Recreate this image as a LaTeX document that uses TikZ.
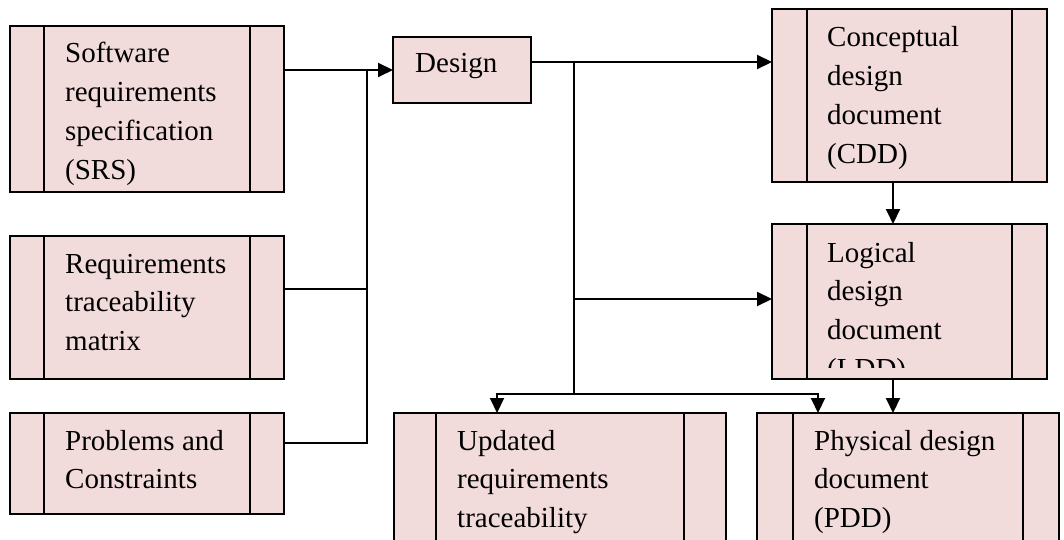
\documentclass[tikz,border=0pt]{standalone}
\usepackage{fontspec}
\setmainfont{Liberation Serif}
\usetikzlibrary{arrows.meta,calc}
\definecolor{boxfill}{HTML}{F2DCDB}
\tikzset{
  box/.style={draw=black, line width=2pt, fill=boxfill, inner sep=0pt, outer sep=0pt, anchor=north west},
  bars/.style={path picture={
    \draw[line width=2pt] ([xshift=#1]path picture bounding box.north west) -- ([xshift=#1]path picture bounding box.south west);
    \draw[line width=2pt] ([xshift=-#1]path picture bounding box.north east) -- ([xshift=-#1]path picture bounding box.south east);}},
  txt/.style={anchor=base west, inner sep=0pt, font=\fontsize{29}{38.7}\selectfont},
  conn/.style={line width=2pt},
  arr/.style={conn, -{Triangle[length=15pt,width=14pt]}},
}
\newcommand{\lines}[1]{\parbox[t]{300pt}{\raggedright #1}}
\begin{document}
\begin{tikzpicture}[x=1pt,y=-1pt]
\useasboundingbox (0,0) rectangle (1064,540);
\clip (0,0) rectangle (1064,540);
% boxes
\node[box, bars=34pt, minimum width=274pt, minimum height=166pt] (srs) at (10,26) {};
\node[box, bars=34pt, minimum width=274pt, minimum height=143pt] (rtm) at (10,236) {};
\node[box, bars=34pt, minimum width=274pt, minimum height=101pt] (prob) at (10,413) {};
\node[box, minimum width=138pt, minimum height=66pt] (design) at (393,37) {};
\node[box, bars=35pt, minimum width=275pt, minimum height=173pt] (cdd) at (772,9) {};
\node[box, bars=35pt, minimum width=275pt, minimum height=155pt] (ldd) at (772,224) {};
\node[box, bars=42pt, minimum width=332pt, minimum height=200pt] (upd) at (394,413) {};
\node[box, bars=36pt, minimum width=302pt, minimum height=200pt] (pdd) at (757,413) {};
% texts
\node[txt] (tsrs) at (65,63) {\lines{Software\\requirements\\specification\\(SRS)}};
\node[txt] (trtm) at (65,273) {\lines{Requirements\\traceability\\matrix}};
\node[txt] (tprob) at (65,450) {\lines{Problems and\\Constraints}};
\node[txt] (tdesign) at (415,73) {Design};
\node[txt] (tcdd) at (827,47) {\lines{Conceptual\\design\\document\\(CDD)}};
\begin{scope}
\clip (772,224) rectangle (1047,367);
\node[txt] (tldd) at (827,262) {\lines{Logical\\design\\document\\(LDD)}};
\end{scope}
\node[txt] (tupd) at (457,450) {\lines{Updated\\requirements\\traceability}};
\node[txt] (tpdd) at (814,450) {\lines{Physical design\\document\\(PDD)}};
% connectors on the left
\coordinate (bus) at (367,70);
\coordinate (rj) at ($(rtm.north east)+(0,53)$);
\coordinate (pj) at ($(prob.north east)+(0,30)$);
\draw[arr] (srs.east |- design.west) -- (design.west);
\draw[conn] (bus) -- (bus |- pj) -- (pj);
\draw[conn] (rj) -- (rj -| bus);
% connectors on the right
\coordinate (dout) at ($(design.north east)+(0,25)$);
\coordinate (br) at (574,62);
\coordinate (hb) at (574,394);
\coordinate (lj) at (574,299);
\draw[arr] (dout) -- (dout -| cdd.west);
\draw[conn] (br) -- (hb);
\draw[arr] (lj) -- (lj -| ldd.west);
\coordinate (ua) at ($(upd.north west)+(103,0)$);
\coordinate (pa) at ($(pdd.north west)+(61,0)$);
\draw[arr] (hb) -| (ua);
\draw[arr] (hb) -| (pa);
\coordinate (cs) at ($(cdd.south west)+(121,0)$);
\coordinate (ls) at ($(ldd.south west)+(121,0)$);
\draw[arr] (cs) -- (cs |- ldd.north);
\draw[arr] (ls) -- (ls |- pdd.north);
\end{tikzpicture}
\end{document}
